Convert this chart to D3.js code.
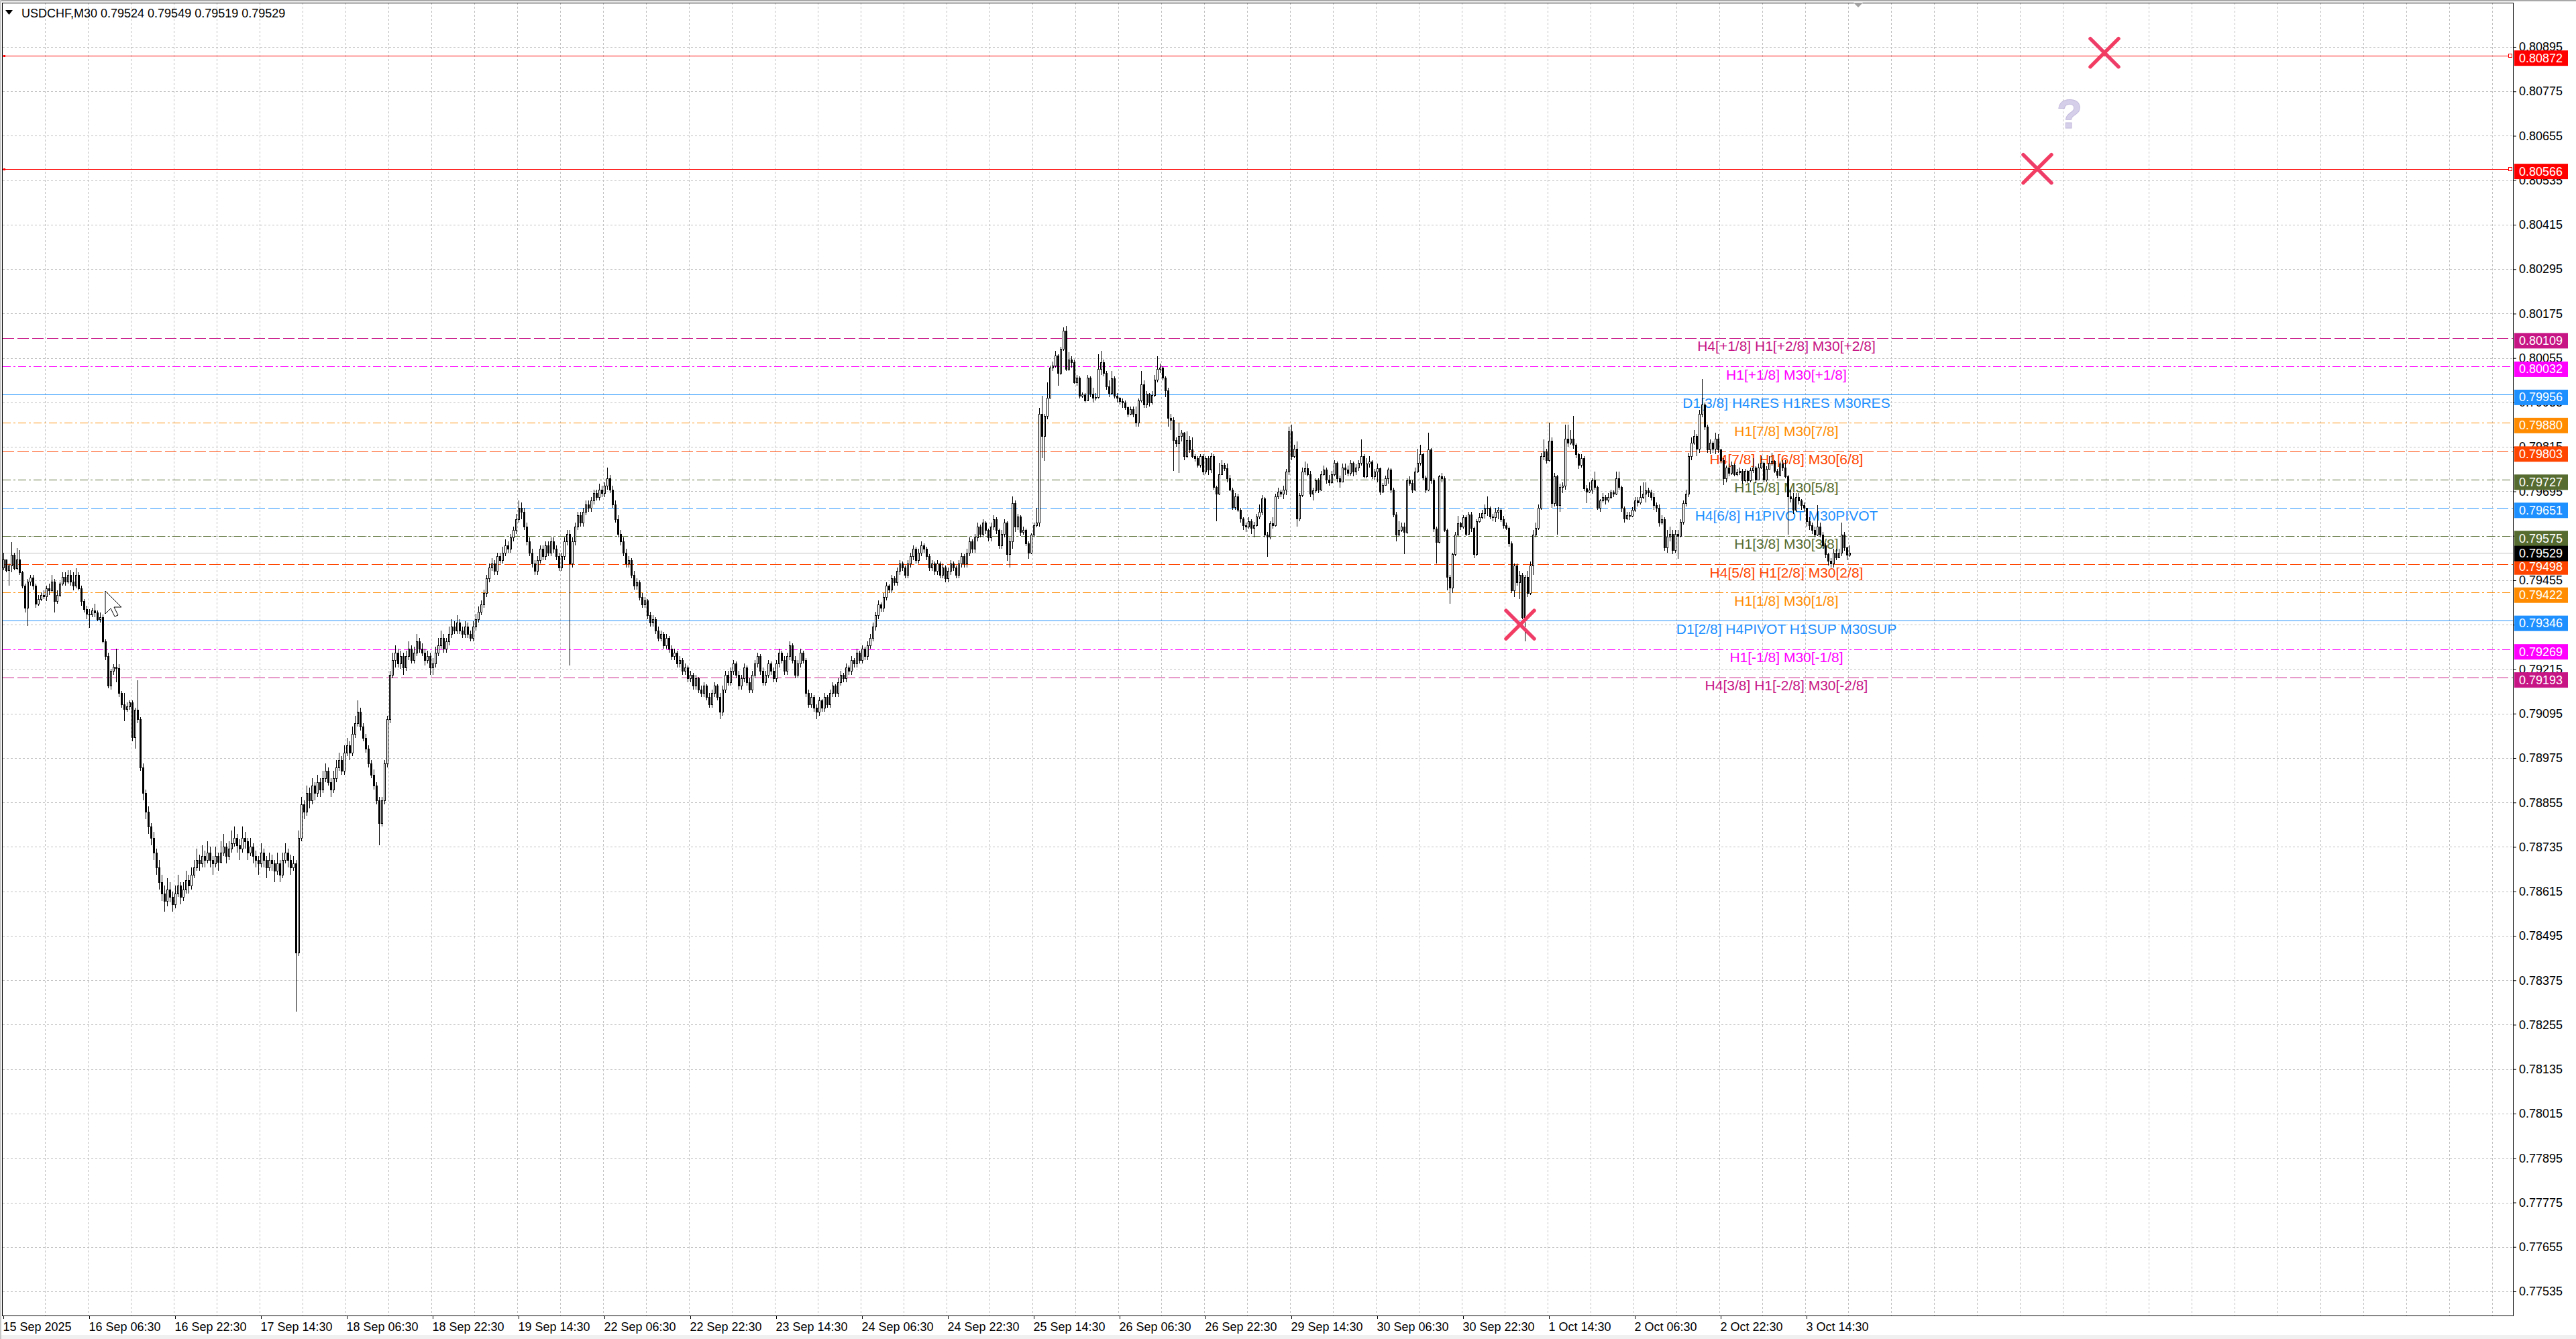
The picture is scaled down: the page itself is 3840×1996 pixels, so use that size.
<!DOCTYPE html>
<html><head><meta charset="utf-8">
<script src="https://cdnjs.cloudflare.com/ajax/libs/d3/7.8.5/d3.min.js"></script>
<style>
html,body{margin:0;padding:0;background:#fff;overflow:hidden;}
svg{display:block;}
text{font-family:"Liberation Sans",Arial,sans-serif;}
</style></head><body>
<svg id="chart" width="3840" height="1996"></svg>
<script>
// ---------------- data ----------------
const symbolTitle = "USDCHF,M30  0.79524 0.79549 0.79519 0.79529";
const timeLabels = ["15 Sep 2025","16 Sep 06:30","16 Sep 22:30","17 Sep 14:30","18 Sep 06:30","18 Sep 22:30","19 Sep 14:30","22 Sep 06:30","22 Sep 22:30","23 Sep 14:30","24 Sep 06:30","24 Sep 22:30","25 Sep 14:30","26 Sep 06:30","26 Sep 22:30","29 Sep 14:30","30 Sep 06:30","30 Sep 22:30","1 Oct 14:30","2 Oct 06:30","2 Oct 22:30","3 Oct 14:30"];
const labelBars = [0,32,64,96,128,160,192,224,256,288,320,352,384,416,448,480,512,544,576,608,640,672];
const priceTicks = [0.80895,0.80775,0.80655,0.80535,0.80415,0.80295,0.80175,0.80055,0.79935,0.79815,0.79695,0.79575,0.79455,0.79335,0.79215,0.79095,0.78975,0.78855,0.78735,0.78615,0.78495,0.78375,0.78255,0.78135,0.78015,0.77895,0.77775,0.77655,0.77535];
const levelPrices = [0.80109,0.80032,0.79956,0.79880,0.79803,0.79727,0.79651,0.79575,0.79498,0.79422,0.79346,0.79269,0.79193];
const levelLabels = ["H4[+1/8] H1[+2/8] M30[+2/8]","H1[+1/8] M30[+1/8]","D1[3/8] H4RES H1RES M30RES","H1[7/8] M30[7/8]","H4[7/8] H1[6/8] M30[6/8]","H1[5/8] M30[5/8]","H4[6/8] H1PIVOT M30PIVOT","H1[3/8] M30[3/8]","H4[5/8] H1[2/8] M30[2/8]","H1[1/8] M30[1/8]","D1[2/8] H4PIVOT H1SUP M30SUP","H1[-1/8] M30[-1/8]","H4[3/8] H1[-2/8] M30[-2/8]"];
const alertPrices = [0.80872,0.80566];
const currentPrice = 0.79529;

// M30 bars, 15 Sep 14:30 .. 3 Oct 22:30 (one entry per bar)
const opens = [
.79490,.79512,.79482,.79494,.79524,.79488,.79512,.79476,.79440,.79380,
.79452,.79462,.79440,.79392,.79404,.79416,.79412,.79434,.79428,.79452,
.79398,.79416,.79446,.79464,.79452,.79470,.79452,.79440,.79470,.79434,
.79398,.79377,.79365,.79362,.79374,.79368,.79350,.79355,.79290,.79250,
.79170,.79210,.79222,.79218,.79150,.79120,.79108,.79115,.79125,.79032,
.79105,.79080,.78950,.78880,.78830,.78790,.78760,.78720,.78680,.78640,
.78610,.78590,.78620,.78600,.78580,.78610,.78630,.78600,.78620,.78645,
.78630,.78660,.78680,.78700,.78690,.78710,.78700,.78720,.78700,.78690,
.78710,.78695,.78720,.78735,.78710,.78730,.78745,.78760,.78740,.78730,
.78760,.78750,.78720,.78735,.78710,.78700,.78690,.78720,.78700,.78680,
.78700,.78690,.78670,.78690,.78660,.78700,.78720,.78700,.78680,.78690,
.78450,.78760,.78850,.78830,.78880,.78860,.78900,.78880,.78910,.78890,
.78920,.78940,.78910,.78890,.78920,.78950,.78970,.78940,.78990,.79010,
.78990,.79040,.79070,.79100,.79060,.79030,.79000,.78960,.78930,.78900,
.78860,.78800,.78860,.78960,.79080,.79200,.79240,.79260,.79230,.79250,
.79220,.79250,.79270,.79240,.79260,.79290,.79270,.79260,.79240,.79250,
.79220,.79230,.79260,.79280,.79300,.79270,.79290,.79310,.79330,.79320,
.79340,.79320,.79310,.79330,.79310,.79300,.79330,.79350,.79370,.79390,
.79420,.79460,.79490,.79500,.79480,.79520,.79510,.79530,.79550,.79540,
.79570,.79590,.79620,.79650,.79640,.79600,.79560,.79530,.79500,.79480,
.79510,.79540,.79520,.79550,.79530,.79560,.79540,.79520,.79490,.79520,
.79560,.79580,.79500,.79560,.79600,.79630,.79610,.79640,.79660,.79650,
.79670,.79690,.79680,.79700,.79690,.79710,.79730,.79700,.79660,.79620,
.79580,.79560,.79530,.79500,.79510,.79470,.79440,.79450,.79410,.79390,
.79400,.79360,.79340,.79350,.79320,.79300,.79310,.79280,.79300,.79270,
.79250,.79260,.79230,.79240,.79210,.79220,.79190,.79200,.79170,.79190,
.79160,.79150,.79170,.79140,.79120,.79150,.79170,.79140,.79100,.79160,
.79200,.79180,.79210,.79230,.79200,.79170,.79190,.79220,.79180,.79160,
.79200,.79230,.79250,.79210,.79180,.79200,.79230,.79210,.79190,.79230,
.79260,.79240,.79210,.79250,.79280,.79240,.79200,.79230,.79260,.79240,
.79150,.79120,.79140,.79110,.79100,.79130,.79110,.79140,.79120,.79150,
.79170,.79150,.79180,.79200,.79190,.79220,.79210,.79240,.79230,.79260,
.79240,.79270,.79250,.79280,.79300,.79330,.79360,.79390,.79380,.79410,
.79440,.79430,.79460,.79450,.79480,.79500,.79490,.79470,.79500,.79520,
.79540,.79510,.79530,.79550,.79540,.79520,.79490,.79500,.79480,.79500,
.79470,.79490,.79460,.79480,.79500,.79490,.79470,.79500,.79520,.79500,
.79530,.79560,.79540,.79570,.79600,.79580,.79610,.79590,.79570,.79600,
.79620,.79590,.79550,.79580,.79610,.79525,.79560,.79664,.79600,.79627,
.79585,.79590,.79555,.79530,.79578,.79603,.79610,.79905,.79845,.79899,
.79947,.80029,.80035,.80062,.80014,.80080,.80129,.80026,.80050,.80044,
.79990,.80002,.79953,.79956,.79941,.80002,.79959,.79947,.79950,.80026,
.80044,.80014,.79978,.79960,.80000,.79953,.79947,.79938,.79935,.79923,
.79905,.79917,.79905,.79881,.79941,.79984,.79929,.79959,.79935,.79955,
.79996,.80026,.80029,.80002,.79968,.79893,.79887,.79833,.79824,.79845,
.79854,.79790,.79833,.79809,.79790,.79784,.79766,.79790,.79748,.79784,
.79754,.79790,.79706,.79688,.79742,.79766,.79757,.79730,.79700,.79652,
.79682,.79645,.79621,.79603,.79600,.79615,.79597,.79603,.79627,.79639,
.79676,.79579,.79573,.79609,.79603,.79682,.79694,.79688,.79700,.79748,
.79857,.79790,.79810,.79621,.79685,.79748,.79757,.79742,.79688,.79697,
.79724,.79700,.79742,.79754,.79727,.79720,.79742,.79772,.79730,.79722,
.79760,.79754,.79745,.79772,.79748,.79760,.79772,.79790,.79736,.79770,
.79775,.79736,.79748,.79757,.79694,.79712,.79730,.79754,.79700,.79633,
.79579,.79590,.79600,.79585,.79724,.79718,.79700,.79748,.79772,.79796,
.79733,.79700,.79809,.79724,.79594,.79558,.79736,.79730,.79591,.79464,
.79435,.79525,.79579,.79609,.79600,.79625,.79580,.79633,.79596,.79525,
.79615,.79626,.79636,.79648,.79651,.79627,.79625,.79640,.79645,.79620,
.79603,.79597,.79555,.79428,.79494,.79450,.79470,.79356,.79464,.79420,
.79494,.79579,.79597,.79651,.79790,.79802,.79780,.79832,.79663,.79736,
.79657,.79706,.79710,.79838,.79826,.79838,.79820,.79796,.79767,.79784,
.79703,.79694,.79700,.79724,.79706,.79651,.79670,.79680,.79672,.79680,
.79692,.79688,.79730,.79706,.79651,.79622,.79630,.79628,.79645,.79670,
.79665,.79680,.79688,.79697,.79692,.79680,.79657,.79651,.79610,.79620,
.79543,.79573,.79580,.79537,.79580,.79575,.79612,.79663,.79688,.79790,
.79826,.79845,.79810,.79905,.79929,.79869,.79808,.79826,.79810,.79838,
.79808,.79780,.79730,.79760,.79745,.79766,.79742,.79746,.79750,.79724,
.79750,.79725,.79752,.79760,.79727,.79760,.79772,.79727,.79755,.79772,
.79778,.79750,.79740,.79770,.79760,.79736,.79682,.79676,.79645,.79680,
.79670,.79657,.79650,.79615,.79603,.79591,.79579,.79600,.79579,.79549,
.79525,.79507,.79500,.79530,.79517,.79530,.79579,.79543,.79524];
const highs = [
.79530,.79512,.79500,.79558,.79530,.79542,.79536,.79480,.79446,.79458,
.79470,.79470,.79446,.79416,.79422,.79428,.79440,.79446,.79470,.79458,
.79428,.79452,.79476,.79476,.79482,.79482,.79476,.79488,.79476,.79440,
.79404,.79386,.79377,.79380,.79392,.79374,.79368,.79362,.79296,.79260,
.79215,.79228,.79270,.79228,.79156,.79150,.79125,.79130,.79130,.79110,
.79185,.79085,.78960,.78890,.78845,.78800,.78775,.78730,.78700,.78660,
.78630,.78650,.78640,.78615,.78630,.78660,.78640,.78640,.78670,.78660,
.78680,.78700,.78730,.78715,.78740,.78725,.78750,.78735,.78710,.78735,
.78720,.78750,.78770,.78745,.78750,.78780,.78790,.78770,.78755,.78790,
.78775,.78760,.78760,.78745,.78725,.78710,.78745,.78730,.78710,.78720,
.78715,.78700,.78720,.78700,.78720,.78745,.78730,.78715,.78710,.78700,
.78780,.78870,.78860,.78900,.78895,.78920,.78910,.78930,.78920,.78940,
.78960,.78950,.78920,.78940,.78970,.78990,.78980,.79010,.79030,.79020,
.79060,.79090,.79130,.79110,.79070,.79040,.79010,.78970,.78945,.78910,
.78870,.78870,.78970,.79090,.79210,.79260,.79280,.79270,.79265,.79260,
.79265,.79290,.79280,.79275,.79310,.79300,.79285,.79270,.79265,.79260,
.79245,.79275,.79300,.79320,.79310,.79300,.79330,.79350,.79345,.79360,
.79350,.79330,.79345,.79340,.79320,.79345,.79365,.79385,.79400,.79430,
.79470,.79500,.79515,.79510,.79530,.79530,.79545,.79565,.79560,.79580,
.79600,.79635,.79670,.79665,.79650,.79610,.79570,.79540,.79510,.79520,
.79550,.79550,.79560,.79560,.79570,.79570,.79550,.79530,.79530,.79570,
.79590,.79590,.79570,.79610,.79640,.79640,.79650,.79670,.79670,.79680,
.79700,.79700,.79715,.79710,.79720,.79760,.79740,.79710,.79670,.79630,
.79590,.79570,.79540,.79520,.79515,.79480,.79460,.79455,.79420,.79410,
.79405,.79370,.79360,.79355,.79330,.79320,.79315,.79310,.79305,.79280,
.79270,.79265,.79250,.79245,.79230,.79225,.79210,.79205,.79200,.79195,
.79170,.79180,.79175,.79150,.79160,.79180,.79175,.79150,.79170,.79210,
.79210,.79220,.79240,.79235,.79210,.79200,.79230,.79225,.79190,.79210,
.79240,.79260,.79255,.79220,.79210,.79240,.79235,.79220,.79240,.79270,
.79265,.79250,.79260,.79290,.79285,.79250,.79240,.79270,.79265,.79245,
.79160,.79150,.79145,.79120,.79140,.79135,.79150,.79145,.79160,.79180,
.79175,.79190,.79210,.79205,.79230,.79225,.79250,.79245,.79270,.79265,
.79280,.79275,.79290,.79310,.79340,.79370,.79400,.79395,.79420,.79450,
.79445,.79470,.79465,.79490,.79510,.79505,.79495,.79510,.79530,.79550,
.79545,.79540,.79560,.79555,.79545,.79525,.79510,.79505,.79510,.79505,
.79500,.79495,.79490,.79510,.79505,.79495,.79510,.79530,.79525,.79540,
.79570,.79565,.79580,.79610,.79605,.79620,.79615,.79595,.79610,.79630,
.79625,.79595,.79590,.79620,.79615,.79570,.79682,.79670,.79635,.79630,
.79600,.79595,.79560,.79582,.79610,.79650,.79920,.79953,.79905,.79990,
.80035,.80045,.80074,.80065,.80085,.80138,.80141,.80070,.80060,.80050,
.80010,.80005,.79962,.79960,.80010,.80005,.79975,.79960,.80065,.80075,
.80050,.80020,.79995,.80020,.80005,.79960,.79950,.79945,.79940,.79925,
.79925,.79925,.79925,.79945,.80020,.79995,.79965,.79960,.79965,.80010,
.80060,.80040,.80032,.80005,.79975,.79905,.79895,.79840,.79881,.79860,
.79855,.79857,.79845,.79840,.79795,.79790,.79796,.79795,.79790,.79790,
.79800,.79795,.79710,.79772,.79780,.79772,.79770,.79740,.79705,.79690,
.79688,.79650,.79625,.79610,.79625,.79620,.79612,.79635,.79660,.79685,
.79680,.79585,.79615,.79625,.79688,.79705,.79700,.79710,.79755,.79870,
.79875,.79820,.79830,.79690,.79760,.79775,.79770,.79750,.79705,.79730,
.79730,.79750,.79765,.79760,.79740,.79750,.79780,.79775,.79738,.79770,
.79770,.79765,.79780,.79775,.79768,.79780,.79835,.79795,.79785,.79790,
.79780,.79755,.79770,.79760,.79718,.79738,.79760,.79758,.79705,.79640,
.79615,.79610,.79610,.79730,.79735,.79725,.79760,.79810,.79820,.79800,
.79738,.79854,.79812,.79730,.79600,.79740,.79745,.79735,.79595,.79470,
.79530,.79585,.79628,.79612,.79630,.79630,.79640,.79640,.79600,.79620,
.79636,.79645,.79660,.79682,.79655,.79635,.79650,.79652,.79648,.79628,
.79610,.79600,.79560,.79500,.79500,.79480,.79475,.79470,.79480,.79505,
.79590,.79610,.79660,.79800,.79835,.79810,.79881,.79840,.79745,.79740,
.79715,.79720,.79875,.79875,.79860,.79899,.79825,.79800,.79795,.79790,
.79712,.79720,.79730,.79748,.79710,.79675,.79690,.79685,.79690,.79700,
.79698,.79748,.79748,.79710,.79655,.79640,.79640,.79652,.79680,.79680,
.79710,.79720,.79720,.79705,.79700,.79690,.79665,.79660,.79630,.79625,
.79590,.79600,.79590,.79590,.79590,.79620,.79670,.79700,.79800,.79840,
.79860,.79850,.79915,.79998,.79935,.79875,.79835,.79830,.79854,.79850,
.79810,.79785,.79765,.79770,.79775,.79770,.79755,.79760,.79755,.79755,
.79752,.79760,.79785,.79762,.79770,.79790,.79775,.79762,.79790,.79800,
.79780,.79755,.79775,.79780,.79780,.79740,.79700,.79690,.79690,.79690,
.79675,.79665,.79650,.79625,.79610,.79600,.79657,.79610,.79585,.79555,
.79530,.79515,.79540,.79540,.79540,.79610,.79585,.79545,.79549];
const lows = [
.79482,.79476,.79440,.79476,.79482,.79482,.79470,.79434,.79368,.79332,
.79440,.79430,.79380,.79386,.79398,.79404,.79398,.79416,.79422,.79368,
.79392,.79410,.79440,.79440,.79446,.79440,.79428,.79434,.79428,.79386,
.79368,.79350,.79326,.79356,.79356,.79344,.79340,.79284,.79240,.79164,
.79160,.79200,.79180,.79140,.79110,.79075,.79100,.79105,.79020,.79000,
.79070,.78940,.78860,.78810,.78770,.78740,.78700,.78660,.78620,.78590,
.78560,.78575,.78585,.78560,.78570,.78600,.78580,.78590,.78610,.78610,
.78620,.78650,.78670,.78670,.78680,.78680,.78690,.78680,.78660,.78680,
.78670,.78690,.78710,.78690,.78700,.78720,.78735,.78720,.78700,.78720,
.78730,.78700,.78710,.78690,.78680,.78660,.78680,.78680,.78650,.78670,
.78670,.78640,.78660,.78640,.78650,.78690,.78680,.78660,.78670,.78290,
.78440,.78750,.78810,.78820,.78840,.78850,.78860,.78870,.78870,.78880,
.78910,.78900,.78870,.78880,.78910,.78940,.78930,.78930,.78980,.78970,
.78980,.79030,.79060,.79050,.79020,.78990,.78950,.78920,.78890,.78850,
.78740,.78790,.78850,.78950,.79070,.79190,.79220,.79220,.79215,.79200,
.79210,.79240,.79230,.79230,.79250,.79260,.79250,.79225,.79230,.79200,
.79200,.79220,.79250,.79270,.79260,.79260,.79280,.79300,.79310,.79310,
.79310,.79300,.79300,.79300,.79290,.79290,.79320,.79340,.79360,.79380,
.79410,.79450,.79480,.79470,.79470,.79500,.79500,.79520,.79530,.79530,
.79560,.79580,.79610,.79620,.79590,.79550,.79520,.79490,.79470,.79470,
.79500,.79510,.79510,.79520,.79520,.79530,.79510,.79480,.79480,.79510,
.79550,.79225,.79490,.79550,.79590,.79600,.79600,.79630,.79640,.79640,
.79660,.79670,.79670,.79680,.79680,.79700,.79690,.79650,.79610,.79570,
.79550,.79520,.79490,.79490,.79460,.79430,.79430,.79400,.79380,.79380,
.79350,.79330,.79330,.79310,.79290,.79290,.79270,.79270,.79260,.79240,
.79240,.79220,.79220,.79200,.79200,.79180,.79180,.79160,.79160,.79150,
.79140,.79140,.79130,.79110,.79110,.79140,.79130,.79080,.79090,.79150,
.79170,.79170,.79200,.79190,.79160,.79160,.79180,.79170,.79150,.79150,
.79190,.79220,.79200,.79170,.79170,.79190,.79200,.79180,.79180,.79220,
.79230,.79200,.79200,.79240,.79230,.79190,.79190,.79220,.79230,.79140,
.79110,.79110,.79100,.79080,.79090,.79100,.79100,.79110,.79110,.79140,
.79140,.79140,.79170,.79180,.79180,.79200,.79200,.79220,.79220,.79230,
.79230,.79240,.79240,.79270,.79290,.79320,.79350,.79370,.79370,.79400,
.79420,.79420,.79440,.79440,.79470,.79480,.79460,.79460,.79490,.79510,
.79500,.79500,.79520,.79530,.79510,.79480,.79480,.79470,.79470,.79460,
.79460,.79450,.79450,.79470,.79480,.79460,.79460,.79490,.79490,.79490,
.79520,.79530,.79530,.79560,.79570,.79570,.79580,.79560,.79560,.79590,
.79580,.79540,.79540,.79570,.79507,.79490,.79540,.79585,.79590,.79575,
.79578,.79548,.79513,.79525,.79570,.79598,.79600,.79784,.79778,.79890,
.79945,.80020,.80030,.79981,.80010,.80075,.80020,.80020,.80030,.79985,
.79980,.79945,.79948,.79935,.79940,.79950,.79935,.79940,.79945,.80010,
.80005,.79970,.79950,.79955,.79945,.79935,.79930,.79920,.79915,.79895,
.79900,.79895,.79870,.79870,.79935,.79920,.79920,.79925,.79930,.79950,
.79990,.80015,.79995,.79950,.79870,.79860,.79750,.79815,.79745,.79830,
.79780,.79785,.79800,.79785,.79775,.79760,.79760,.79740,.79742,.79740,
.79745,.79700,.79615,.79685,.79740,.79750,.79720,.79695,.79645,.79645,
.79640,.79610,.79590,.79585,.79595,.79580,.79570,.79600,.79620,.79630,
.79570,.79519,.79565,.79595,.79600,.79675,.79680,.79675,.79685,.79740,
.79780,.79785,.79600,.79615,.79680,.79740,.79735,.79680,.79670,.79690,
.79690,.79695,.79738,.79715,.79710,.79715,.79735,.79720,.79705,.79720,
.79740,.79735,.79738,.79735,.79740,.79750,.79765,.79730,.79730,.79760,
.79728,.79725,.79720,.79685,.79690,.79710,.79715,.79690,.79625,.79560,
.79575,.79585,.79525,.79580,.79710,.79690,.79695,.79745,.79765,.79725,
.79690,.79695,.79715,.79585,.79500,.79555,.79720,.79585,.79428,.79392,
.79420,.79520,.79575,.79590,.79595,.79575,.79578,.79585,.79515,.79520,
.79610,.79620,.79622,.79628,.79620,.79615,.79612,.79620,.79612,.79595,
.79590,.79545,.79420,.79410,.79440,.79405,.79350,.79290,.79410,.79415,
.79470,.79570,.79590,.79645,.79780,.79770,.79775,.79650,.79655,.79579,
.79640,.79690,.79700,.79815,.79820,.79810,.79785,.79755,.79760,.79695,
.79663,.79690,.79688,.79700,.79645,.79640,.79665,.79660,.79665,.79675,
.79680,.79685,.79700,.79640,.79610,.79618,.79618,.79625,.79640,.79655,
.79660,.79675,.79665,.79680,.79670,.79645,.79640,.79600,.79605,.79535,
.79530,.79560,.79525,.79530,.79513,.79570,.79605,.79655,.79680,.79780,
.79820,.79790,.79800,.79895,.79860,.79800,.79795,.79800,.79795,.79800,
.79770,.79712,.79720,.79735,.79740,.79735,.79735,.79740,.79715,.79720,
.79718,.79720,.79745,.79718,.79725,.79755,.79720,.79722,.79755,.79765,
.79745,.79730,.79735,.79750,.79730,.79579,.79665,.79635,.79640,.79660,
.79645,.79640,.79600,.79590,.79580,.79570,.79575,.79570,.79540,.79515,
.79495,.79490,.79490,.79510,.79515,.79520,.79535,.79510,.79519];
const closes = [
.79512,.79482,.79494,.79524,.79488,.79512,.79476,.79440,.79380,.79452,
.79462,.79440,.79392,.79404,.79416,.79412,.79434,.79428,.79452,.79398,
.79416,.79446,.79464,.79452,.79470,.79452,.79440,.79470,.79434,.79398,
.79377,.79365,.79362,.79374,.79368,.79350,.79355,.79290,.79250,.79170,
.79210,.79222,.79218,.79150,.79120,.79108,.79115,.79125,.79032,.79105,
.79080,.78950,.78880,.78830,.78790,.78760,.78720,.78680,.78640,.78610,
.78590,.78620,.78600,.78580,.78610,.78630,.78600,.78620,.78645,.78630,
.78660,.78680,.78700,.78690,.78710,.78700,.78720,.78700,.78690,.78710,
.78695,.78720,.78735,.78710,.78730,.78745,.78760,.78740,.78730,.78760,
.78750,.78720,.78735,.78710,.78700,.78690,.78720,.78700,.78680,.78700,
.78690,.78670,.78690,.78660,.78700,.78720,.78700,.78680,.78690,.78450,
.78760,.78850,.78830,.78880,.78860,.78900,.78880,.78910,.78890,.78920,
.78940,.78910,.78890,.78920,.78950,.78970,.78940,.78990,.79010,.78990,
.79040,.79070,.79100,.79060,.79030,.79000,.78960,.78930,.78900,.78860,
.78800,.78860,.78960,.79080,.79200,.79240,.79260,.79230,.79250,.79220,
.79250,.79270,.79240,.79260,.79290,.79270,.79260,.79240,.79250,.79220,
.79230,.79260,.79280,.79300,.79270,.79290,.79310,.79330,.79320,.79340,
.79320,.79310,.79330,.79310,.79300,.79330,.79350,.79370,.79390,.79420,
.79460,.79490,.79500,.79480,.79520,.79510,.79530,.79550,.79540,.79570,
.79590,.79620,.79650,.79640,.79600,.79560,.79530,.79500,.79480,.79510,
.79540,.79520,.79550,.79530,.79560,.79540,.79520,.79490,.79520,.79560,
.79580,.79500,.79560,.79600,.79630,.79610,.79640,.79660,.79650,.79670,
.79690,.79680,.79700,.79690,.79710,.79730,.79700,.79660,.79620,.79580,
.79560,.79530,.79500,.79510,.79470,.79440,.79450,.79410,.79390,.79400,
.79360,.79340,.79350,.79320,.79300,.79310,.79280,.79300,.79270,.79250,
.79260,.79230,.79240,.79210,.79220,.79190,.79200,.79170,.79190,.79160,
.79150,.79170,.79140,.79120,.79150,.79170,.79140,.79100,.79160,.79200,
.79180,.79210,.79230,.79200,.79170,.79190,.79220,.79180,.79160,.79200,
.79230,.79250,.79210,.79180,.79200,.79230,.79210,.79190,.79230,.79260,
.79240,.79210,.79250,.79280,.79240,.79200,.79230,.79260,.79240,.79150,
.79120,.79140,.79110,.79100,.79130,.79110,.79140,.79120,.79150,.79170,
.79150,.79180,.79200,.79190,.79220,.79210,.79240,.79230,.79260,.79240,
.79270,.79250,.79280,.79300,.79330,.79360,.79390,.79380,.79410,.79440,
.79430,.79460,.79450,.79480,.79500,.79490,.79470,.79500,.79520,.79540,
.79510,.79530,.79550,.79540,.79520,.79490,.79500,.79480,.79500,.79470,
.79490,.79460,.79480,.79500,.79490,.79470,.79500,.79520,.79500,.79530,
.79560,.79540,.79570,.79600,.79580,.79610,.79590,.79570,.79600,.79620,
.79590,.79550,.79580,.79610,.79525,.79560,.79664,.79600,.79627,.79585,
.79590,.79555,.79530,.79578,.79603,.79610,.79905,.79845,.79899,.79947,
.80029,.80035,.80062,.80014,.80080,.80129,.80026,.80050,.80044,.79990,
.80002,.79953,.79956,.79941,.80002,.79959,.79947,.79950,.80026,.80044,
.80014,.79978,.79960,.80000,.79953,.79947,.79938,.79935,.79923,.79905,
.79917,.79905,.79881,.79941,.79984,.79929,.79959,.79935,.79955,.79996,
.80026,.80029,.80002,.79968,.79893,.79887,.79833,.79824,.79845,.79854,
.79790,.79833,.79809,.79790,.79784,.79766,.79790,.79748,.79784,.79754,
.79790,.79706,.79688,.79742,.79766,.79757,.79730,.79700,.79652,.79682,
.79645,.79621,.79603,.79600,.79615,.79597,.79603,.79627,.79639,.79676,
.79579,.79573,.79609,.79603,.79682,.79694,.79688,.79700,.79748,.79857,
.79790,.79810,.79621,.79685,.79748,.79757,.79742,.79688,.79697,.79724,
.79700,.79742,.79754,.79727,.79720,.79742,.79772,.79730,.79722,.79760,
.79754,.79745,.79772,.79748,.79760,.79772,.79790,.79736,.79770,.79775,
.79736,.79748,.79757,.79694,.79712,.79730,.79754,.79700,.79633,.79579,
.79590,.79600,.79585,.79724,.79718,.79700,.79748,.79772,.79796,.79733,
.79700,.79809,.79724,.79594,.79558,.79736,.79730,.79591,.79464,.79435,
.79525,.79579,.79609,.79600,.79625,.79580,.79633,.79596,.79525,.79615,
.79626,.79636,.79648,.79651,.79627,.79625,.79640,.79645,.79620,.79603,
.79597,.79555,.79428,.79494,.79450,.79470,.79356,.79464,.79420,.79494,
.79579,.79597,.79651,.79790,.79802,.79780,.79832,.79663,.79736,.79657,
.79706,.79710,.79838,.79826,.79838,.79820,.79796,.79767,.79784,.79703,
.79694,.79700,.79724,.79706,.79651,.79670,.79680,.79672,.79680,.79692,
.79688,.79730,.79706,.79651,.79622,.79630,.79628,.79645,.79670,.79665,
.79680,.79688,.79697,.79692,.79680,.79657,.79651,.79610,.79620,.79543,
.79573,.79580,.79537,.79580,.79575,.79612,.79663,.79688,.79790,.79826,
.79845,.79810,.79905,.79929,.79869,.79808,.79826,.79810,.79838,.79808,
.79780,.79730,.79760,.79745,.79766,.79742,.79746,.79750,.79724,.79750,
.79725,.79752,.79760,.79727,.79760,.79772,.79727,.79755,.79772,.79778,
.79750,.79740,.79770,.79760,.79736,.79682,.79676,.79645,.79680,.79670,
.79657,.79650,.79615,.79603,.79591,.79579,.79600,.79579,.79549,.79525,
.79507,.79500,.79530,.79517,.79530,.79579,.79543,.79524,.79529];

// ---------------- drawing ----------------
const svg = d3.select("#chart");
const L = 4, T = 4, R = 3746, B = 1961;
const x = d3.scaleLinear().domain([0, 935.25]).range([5, 3746]);
const y = d3.scaleLinear().domain([0.774698, 0.810145]).range([1961, 4]);
const py = p => Math.round(y(p));

svg.append("rect").attr("width",3840).attr("height",1996).attr("fill","#fff");
svg.append("rect").attr("x",0).attr("y",0).attr("width",3840).attr("height",2).attr("fill","#A8A8A8");
svg.append("rect").attr("x",0).attr("y",1990).attr("width",3840).attr("height",6).attr("fill","#F0F0F0");
svg.append("rect").attr("x",0).attr("y",0).attr("width",2).attr("height",1996).attr("fill","#C8C8C8");

const defs = svg.append("defs");
defs.append("clipPath").attr("id","plotclip").append("rect").attr("x",L).attr("y",T).attr("width",R-L).attr("height",B-T);

// grid
const grid = svg.append("g").attr("shape-rendering","crispEdges").attr("stroke","#C0C0C0").attr("stroke-dasharray","3,3");
grid.selectAll("line.h").data(priceTicks).join("line").attr("class","h")
  .attr("x1",L).attr("x2",R).attr("y1",d=>py(d)+0.5).attr("y2",d=>py(d)+0.5);
grid.selectAll("line.v").data(d3.range(16, 935, 16)).join("line").attr("class","v")
  .attr("y1",T).attr("y2",B).attr("x1",d=>Math.round(x(d))-1.5).attr("x2",d=>Math.round(x(d))-1.5);

// level lines
const levelStyles = [
 {c:"#C71585",d:"17,5"},{c:"#FF00FF",d:"12,4,3,4"},{c:"#1E90FF",d:null},{c:"#FF8C00",d:"12,4,3,4"},
 {c:"#FF4500",d:"17,5"},{c:"#556B2F",d:"12,4,3,4"},{c:"#1E90FF",d:"17,5"},{c:"#556B2F",d:"12,4,3,4"},
 {c:"#FF4500",d:"17,5"},{c:"#FF8C00",d:"12,4,3,4"},{c:"#1E90FF",d:null},{c:"#FF00FF",d:"12,4,3,4"},{c:"#C71585",d:"17,5"}];
const lv = svg.append("g").attr("shape-rendering","crispEdges").attr("clip-path","url(#plotclip)");
lv.selectAll("line").data(levelPrices).join("line")
  .attr("x1",L).attr("x2",R).attr("y1",d=>py(d)+0.5).attr("y2",d=>py(d)+0.5)
  .attr("stroke",(d,i)=>levelStyles[i].c).attr("stroke-width",1.3)
  .attr("stroke-dasharray",(d,i)=>levelStyles[i].d);

// current price line
svg.append("line").attr("x1",L).attr("x2",R).attr("y1",py(currentPrice)+0.5).attr("y2",py(currentPrice)+0.5)
  .attr("stroke","#C0C0C0").attr("stroke-width",1).attr("shape-rendering","crispEdges");

// alert lines
const al = svg.append("g");
al.selectAll("line").data(alertPrices).join("line")
  .attr("x1",L).attr("x2",R-3).attr("y1",d=>py(d)+0.5).attr("y2",d=>py(d)+0.5)
  .attr("stroke","#FF0000").attr("stroke-width",1.3).attr("shape-rendering","crispEdges");
al.selectAll("rect.e").data(alertPrices).join("rect").attr("class","e")
  .attr("x",R-6.5).attr("y",d=>py(d)-2.5).attr("width",5).attr("height",5)
  .attr("fill","#fff").attr("stroke","#FF0000").attr("stroke-width",1);
al.selectAll("rect.s").data(alertPrices).join("rect").attr("class","s")
  .attr("x",L+1).attr("y",d=>py(d)-1).attr("width",3).attr("height",3).attr("fill","#FF0000");

// level labels
const lt = svg.append("g");
lt.selectAll("text").data(levelPrices).join("text")
  .attr("x",2663).attr("y",d=>y(d)+12).attr("text-anchor","middle").attr("dominant-baseline","central")
  .attr("font-size",21).attr("fill",(d,i)=>levelStyles[i].c).text((d,i)=>levelLabels[i]);

// candles
const n = Math.min(opens.length, highs.length, lows.length, closes.length);
const bars = d3.range(n).map(i=>({i, o:opens[i], h:highs[i], l:lows[i], c:closes[i]}));
const cg = svg.append("g").attr("clip-path","url(#plotclip)").attr("shape-rendering","crispEdges");
bars.forEach(b=>{
  const cx = Math.round(x(b.i));
  const yt = py(Math.max(b.o,b.c)), yb = py(Math.min(b.o,b.c));
  const yh = py(b.h), yl = py(b.l);
  if (yh < yt) cg.append("rect").attr("x",cx).attr("y",yh).attr("width",1).attr("height",yt-yh).attr("fill","#000");
  if (yl > yb) cg.append("rect").attr("x",cx).attr("y",yb).attr("width",1).attr("height",yl-yb).attr("fill","#000");
  if (yb - yt < 1) {
    cg.append("rect").attr("x",cx-1).attr("y",yt).attr("width",3).attr("height",1).attr("fill","#000");
  } else if (b.c >= b.o) {
    cg.append("rect").attr("x",cx-0.5).attr("y",yt+0.5).attr("width",2).attr("height",Math.max(1,yb-yt))
      .attr("fill","#fff").attr("stroke","#000").attr("stroke-width",1);
  } else {
    cg.append("rect").attr("x",cx-1).attr("y",yt).attr("width",3).attr("height",yb-yt+1).attr("fill","#000");
  }
});

// markers
const gr = defs.append("linearGradient").attr("id","xg").attr("gradientUnits","objectBoundingBox")
  .attr("x1","0").attr("y1","0").attr("x2","1").attr("y2","1");
gr.append("stop").attr("offset","0").attr("stop-color","#E2407F");
gr.append("stop").attr("offset","1").attr("stop-color","#FF3B55");
const markers = [[3137, y(0.80872)-4],[3037, y(0.80566)],[2266, y(0.79346)+6]];
const mk = svg.append("g");
markers.forEach(([mx,my])=>{
  const s = 21;
  mk.append("line").attr("x1",mx-s).attr("y1",my-s).attr("x2",mx+s).attr("y2",my+s)
    .attr("stroke","#EE3D68").attr("stroke-width",5.5).attr("stroke-linecap","round");
  mk.append("line").attr("x1",mx+s).attr("y1",my-s).attr("x2",mx-s).attr("y2",my+s)
    .attr("stroke","#F23C62").attr("stroke-width",5.5).attr("stroke-linecap","round");
});
mk.append("text").attr("x",3085).attr("y",169).attr("text-anchor","middle").attr("dominant-baseline","central")
  .attr("font-family","DejaVu Sans").attr("font-weight","bold").attr("font-size",62)
  .attr("fill","#D6CFEA").attr("stroke","#C4BBDD").attr("stroke-width",1).text("?");

// frame
svg.append("rect").attr("x",L-0.5).attr("y",T+0.5).attr("width",R-L+0.5).attr("height",B-T)
  .attr("fill","none").attr("stroke","#000").attr("stroke-width",1).attr("shape-rendering","crispEdges");

// right axis
const ya = svg.append("g").attr("transform",`translate(${R},0)`)
  .call(d3.axisRight(y).tickValues(priceTicks).tickSize(5).tickPadding(4).tickFormat(d3.format(".5f")));
ya.select(".domain").remove();
ya.selectAll("text").attr("font-size",18).attr("font-family","Liberation Sans, Arial, sans-serif").attr("fill","#000");
ya.selectAll("line").attr("stroke","#000");

// bottom axis
const xa = svg.append("g").attr("transform",`translate(0,${B})`)
  .call(d3.axisBottom(x).tickValues(labelBars).tickSize(5).tickFormat((d,i)=>timeLabels[i]));
xa.select(".domain").remove();
xa.selectAll("text").attr("font-size",18).attr("font-family","Liberation Sans, Arial, sans-serif").attr("fill","#000")
  .attr("text-anchor","start").attr("x",-1).attr("y",17).attr("dy","0").attr("dominant-baseline","central");
xa.selectAll("line").attr("stroke","#000");

// price boxes
const boxes = levelPrices.map((p,i)=>({p, c: levelStyles[i].c, off:4}))
  .concat(alertPrices.map(p=>({p, c:"#FF0000", off:4})))
  .concat([{p:currentPrice, c:"#000000", off:1}]);
const bx = svg.append("g");
boxes.forEach(b=>{
  const cy = y(b.p)+b.off;
  bx.append("rect").attr("x",R+2).attr("y",cy-11.5).attr("width",80).attr("height",23).attr("fill",b.c);
  bx.append("text").attr("x",R+9).attr("y",cy).attr("dominant-baseline","central").attr("font-size",18)
    .attr("fill","#fff").text(d3.format(".5f")(b.p));
});

// title
svg.append("path").attr("d","M8,15L19,15L13.5,22Z").attr("fill","#000");
svg.append("text").attr("x",32).attr("y",20).attr("dominant-baseline","central").attr("font-size",18).attr("fill","#000").text(symbolTitle);
// top shift marker
svg.append("path").attr("d","M2763,4L2777,4L2770,11Z").attr("fill","#A0A0A0");
// mouse cursor
svg.append("path").attr("d","M157,881 L157,915 L165,907 L171,919 L176,917 L170,905 L181,905 Z")
  .attr("fill","#fff").attr("stroke","#000").attr("stroke-width",1);
</script></body></html>
